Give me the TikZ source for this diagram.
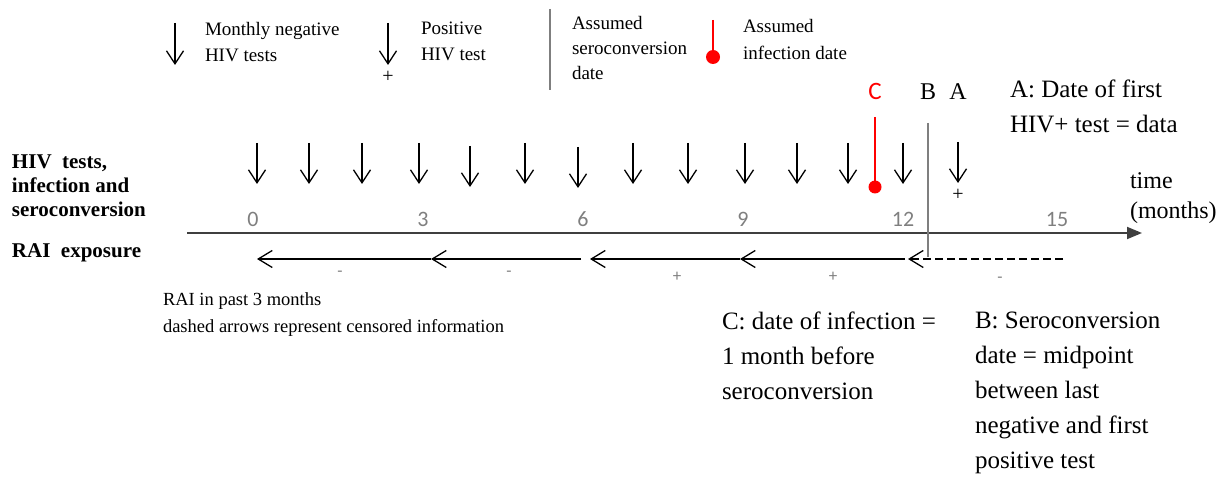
\documentclass[tikz,border=0pt]{standalone}
\usepackage{fontspec}
\setmainfont{LiberationSerif}[Extension=.ttf, UprightFont=*-Regular, BoldFont=*-Bold, ItalicFont=*-Italic, BoldItalicFont=*-BoldItalic]
\newfontfamily\calib{Carlito}
\usetikzlibrary{arrows.meta}
\definecolor{axgray}{HTML}{3F3F3F}
\definecolor{numgray}{HTML}{7F7F7F}
\definecolor{infred}{HTML}{FF0000}
\begin{document}
\begin{tikzpicture}[x=1pt,y=-1pt,
  txt/.style={inner sep=0pt, outer sep=0pt, align=left, anchor=north west},
  lbl/.style={inner sep=0pt, outer sep=0pt, anchor=base},
  legendfont/.style={font=\fontsize{19}{26}\selectfont},
  bigfont/.style={font=\fontsize{25}{35}\selectfont},
  boldlab/.style={font=\fontsize{21}{24}\selectfont\bfseries},
  numlab/.style={lbl, font=\calib\fontsize{22}{22}\selectfont, text=numgray},
  signlab/.style={lbl, font=\calib\fontsize{17}{17}\selectfont, text=numgray},
  testarr/.style={line width=1.3pt, -{Straight Barb[length=13pt,width=17pt,line width=1.3pt]}},
  raiarr/.style={line width=1.3pt, -{Straight Barb[length=14pt,width=17pt,line width=1.3pt]}},
  censarr/.style={line width=1.3pt, dash pattern=on 8pt off 4pt, -{Straight Barb[length=14pt,width=17pt,line width=1.3pt]}},
  axisline/.style={line width=1.8pt, draw=axgray, -{Triangle[length=15pt,width=12pt]}},
  seroline/.style={line width=2.5pt, draw=numgray},
  infline/.style={line width=1.6pt, draw=infred},
  infdot/.style={circle, fill=infred, inner sep=0pt, minimum size=13pt}
]
\useasboundingbox (0,0) rectangle (1222,478);

% ---------------- legend ----------------
\coordinate (l1s) at (175,23); \coordinate (l1e) at (175,65);
\draw[testarr] (l1s) -- (l1e);
\node[txt, legendfont] (leg1) at (205,22) {Monthly negative\\HIV tests};

\coordinate (l2s) at (388,23); \coordinate (l2e) at (388,65);
\draw[testarr] (l2s) -- (l2e);
\node[lbl, font=\fontsize{20}{20}\selectfont] (legplus) at (388,83) {+};
\node[txt, legendfont] (leg2) at (421,22) {Positive\\HIV test};

\coordinate (l3s) at (550,9); \coordinate (l3e) at (550,90);
\draw[line width=1.5pt, draw=numgray] (l3s) -- (l3e);
\node[txt, font=\fontsize{19}{25}\selectfont] (leg3) at (572,16) {Assumed\\seroconversion\\date};

\coordinate (l4s) at (713,20);
\node[infdot, minimum size=14pt] (l4d) at (713,57) {};
\draw[infline] (l4s) -- (l4d.center);
\node[txt, font=\fontsize{19}{27}\selectfont] (leg4) at (743,19) {Assumed\\infection date};

% ---------------- row labels ----------------
\node[txt, boldlab] (rowhiv) at (12,155) {HIV\ \ tests,\\infection and\\seroconversion};
\node[lbl, boldlab, anchor=base west] (rowrai) at (12,258) {RAI\ \ exposure};

% ---------------- axis ----------------
\coordinate (ax0) at (187,233); \coordinate (ax1) at (1142,233);
\draw[axisline] (ax0) -- (ax1);
\foreach \v/\x in {0/253,3/423,6/583,9/743,12/903,15/1057}
  \node[numlab] (n\v) at (\x,227) {\v};
\node[txt, font=\fontsize{24}{30}\selectfont] (timelab) at (1130,173) {time\\(months)};

% ---------------- monthly tests ----------------
\foreach \x/\d [count=\i] in {257/0,309/0,362/0,419/0,470/3,525/0,578/4,633/0,688/0,745/0,797/0,848/0,903/0}{
  \coordinate (t\i s) at (\x,143+\d);
  \coordinate (t\i e) at (\x,184+\d);
  \draw[testarr] (t\i s) -- (t\i e);
}
\coordinate (tps) at (958,142); \coordinate (tpe) at (958,183);
\draw[testarr] (tps) -- (tpe);
\node[lbl, font=\fontsize{20}{20}\selectfont] (tplus) at (958,201) {+};

% infection date C
\coordinate (cs) at (875,117);
\node[infdot] (cdot) at (875,187) {};
\draw[infline] (cs) -- (cdot.center);
% seroconversion date B
\coordinate (bs) at (928,123); \coordinate (be) at (928,257);
\draw[seroline] (bs) -- (be);

\node[lbl, font=\calib\fontsize{25}{25}\selectfont, text=infred] (labC) at (875,100) {C};
\node[lbl, font=\fontsize{24}{24}\selectfont] (labB) at (928,100) {B};
\node[lbl, font=\fontsize{24}{24}\selectfont] (labA) at (958,100) {A};

\node[txt, bigfont] (descA) at (1010,80) {A: Date of first\\HIV+ test = data};

% ---------------- RAI arrows ----------------
\coordinate (r0) at (257,259);
\coordinate (r1) at (431,259);
\coordinate (r1b) at (581,259);
\coordinate (r2) at (590,259);
\coordinate (r3) at (740,259);
\coordinate (r3b) at (905,259);
\coordinate (r4) at (908,259);
\coordinate (r5) at (1063,259);
\draw[raiarr] (r1) -- (r0);
\draw[raiarr] (r1b) -- (r1);
\draw[raiarr] (r3) -- (r2);
\draw[raiarr] (r3b) -- (r3);
\draw[censarr] (r5) -- (r4);

\node[signlab] (s1) at (340,276) {-};
\node[signlab] (s2) at (509,276) {-};
\node[signlab] (s3) at (677,281) {+};
\node[signlab] (s4) at (833,281) {+};
\node[signlab] (s5) at (1000,282) {-};

\node[txt, font=\fontsize{18.5}{27}\selectfont] (note) at (163,293) {RAI in past 3 months\\dashed arrows represent censored information};

\node[txt, bigfont] (descC) at (722,312) {C: date of infection =\\1 month before\\seroconversion};
\node[txt, bigfont] (descB) at (975,312) {B: Seroconversion\\date = midpoint\\between last\\negative and first\\positive test};
\end{tikzpicture}
\end{document}
